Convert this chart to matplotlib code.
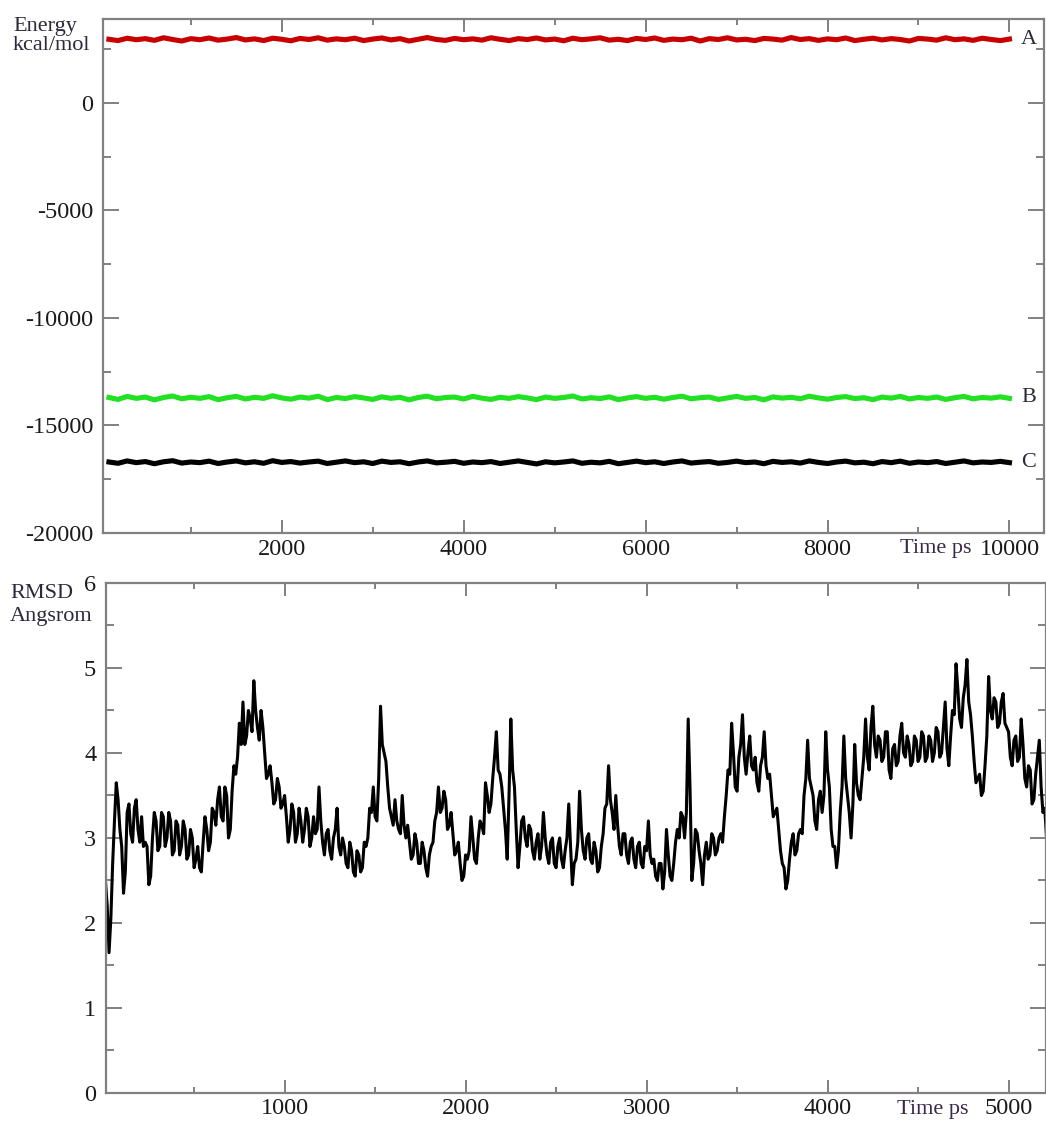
import numpy as np
import matplotlib
matplotlib.use("Agg")
import matplotlib.pyplot as plt
from matplotlib.ticker import MultipleLocator

plt.rcParams['font.family'] = ['Liberation Serif', 'DejaVu Serif']

# ---------------- energy traces (kcal/mol), one value every 100 ps ----------------
energy_time = np.arange(100, 10001, 100)

energy_A = [2960, 2900, 3010, 2940, 2990, 2910, 3030, 2950, 2880, 2990,
            2940, 3020, 2920, 2970, 3040, 2930, 2980, 2900, 3010, 2960,
            2890, 3000, 2950, 3030, 2920, 2980, 2940, 3010, 2900, 2970,
            3020, 2930, 2990, 2880, 2960, 3040, 2950, 2910, 3000, 2940,
            2980, 2920, 3030, 2960, 2900, 2990, 2950, 3020, 2930, 2970,
            2890, 3010, 2940, 2980, 3030, 2920, 2960, 2900, 3000, 2950,
            3020, 2910, 2970, 2940, 3010, 2880, 2990, 2950, 3030, 2930,
            2960, 2900, 3000, 2970, 2920, 3040, 2950, 2990, 2910, 2980,
            2940, 3020, 2900, 2960, 3010, 2930, 2990, 2950, 2880, 3000,
            2970, 2920, 3030, 2940, 2980, 2910, 3010, 2950, 2900, 2970]

energy_B = [-13700, -13790, -13650, -13740, -13680, -13810, -13700, -13630, -13760, -13690,
            -13740, -13660, -13800, -13710, -13650, -13770, -13690, -13740, -13620, -13720,
            -13780, -13680, -13730, -13640, -13800, -13700, -13750, -13660, -13720, -13790,
            -13670, -13740, -13690, -13810, -13700, -13640, -13760, -13700, -13680, -13770,
            -13650, -13730, -13790, -13690, -13740, -13660, -13720, -13800, -13680, -13740,
            -13700, -13630, -13770, -13710, -13750, -13670, -13800, -13720, -13660, -13740,
            -13690, -13780, -13700, -13640, -13760, -13710, -13680, -13790, -13720, -13650,
            -13740, -13700, -13810, -13670, -13730, -13690, -13760, -13640, -13720, -13780,
            -13700, -13660, -13750, -13710, -13800, -13680, -13730, -13650, -13770, -13700,
            -13740, -13680, -13790, -13710, -13650, -13760, -13700, -13730, -13670, -13740]

energy_C = [-16700, -16760, -16650, -16730, -16680, -16780, -16690, -16640, -16750, -16700,
            -16730, -16660, -16770, -16700, -16650, -16740, -16690, -16760, -16640, -16720,
            -16680, -16750, -16700, -16660, -16770, -16710, -16650, -16730, -16690, -16770,
            -16660, -16720, -16690, -16780, -16700, -16650, -16740, -16710, -16670, -16760,
            -16700, -16730, -16680, -16770, -16710, -16650, -16720, -16790, -16690, -16740,
            -16700, -16650, -16760, -16710, -16740, -16670, -16780, -16720, -16660, -16730,
            -16690, -16770, -16700, -16650, -16750, -16710, -16680, -16760, -16720, -16660,
            -16730, -16700, -16780, -16670, -16720, -16690, -16750, -16650, -16720, -16770,
            -16700, -16660, -16740, -16710, -16780, -16680, -16730, -16660, -16760, -16700,
            -16730, -16680, -16770, -16710, -16650, -16740, -16700, -16720, -16670, -16730]

energy_labels = ["A", "B", "C"]
energy_colors = ["#c80000", "#22e022", "#000000"]

# ---------------- backbone RMSD (Angstrom), one value every 10 ps ----------------
rmsd_time = np.arange(10, 5211, 10)

rmsd = [2.5, 2.2, 1.65, 2.05, 2.7, 3.2, 3.65, 3.45, 3.1, 2.9, 2.35, 2.6, 3.3, 3.4, 3.05, 2.95, 3.35, 3.45, 3.1, 2.95,
        3.25, 2.9, 2.95, 2.9, 2.45, 2.55, 3.0, 3.3, 3.2, 2.85, 2.9, 3.3, 3.25, 2.9, 3.0, 3.3, 3.2, 2.8, 2.85, 3.2,
        3.15, 2.8, 2.9, 3.2, 3.1, 2.75, 2.8, 3.1, 3.0, 2.65, 2.75, 2.9, 2.65, 2.6, 2.95, 3.25, 3.1, 2.85, 2.95, 3.35,
        3.3, 3.15, 3.45, 3.6, 3.25, 3.2, 3.6, 3.5, 3.0, 3.1, 3.55, 3.85, 3.75, 3.95, 4.35, 4.1, 4.6, 4.1, 4.2, 4.5,
        4.4, 4.25, 4.85, 4.5, 4.3, 4.15, 4.5, 4.3, 4.0, 3.7, 3.75, 3.85, 3.65, 3.4, 3.45, 3.7, 3.6, 3.35, 3.4, 3.5,
        3.25, 2.95, 3.1, 3.4, 3.3, 2.95, 3.05, 3.35, 3.2, 2.95, 3.1, 3.35, 3.25, 2.9, 3.0, 3.25, 3.05, 3.1, 3.6, 3.2,
        2.95, 2.8, 3.05, 3.1, 2.85, 2.75, 3.0, 3.1, 3.35, 2.9, 2.8, 3.0, 2.9, 2.7, 2.65, 2.95, 2.85, 2.6, 2.55, 2.85,
        2.8, 2.6, 2.65, 2.95, 2.9, 3.0, 3.35, 3.3, 3.6, 3.25, 3.2, 3.7, 4.55, 4.1, 4.0, 3.9, 3.6, 3.35, 3.25, 3.15,
        3.45, 3.2, 3.1, 3.05, 3.5, 3.15, 3.0, 3.15, 2.95, 2.75, 2.8, 3.05, 2.95, 2.7, 2.7, 2.95, 2.85, 2.65, 2.55, 2.8,
        2.9, 2.95, 3.2, 3.3, 3.6, 3.3, 3.35, 3.55, 3.45, 3.1, 3.15, 3.3, 3.05, 2.8, 2.85, 2.95, 2.7, 2.5, 2.55, 2.8,
        2.75, 2.85, 3.25, 3.0, 2.75, 2.7, 3.0, 3.2, 3.15, 3.05, 3.65, 3.5, 3.3, 3.4, 3.7, 3.95, 4.25, 3.8, 3.75, 3.6,
        3.35, 3.1, 2.75, 3.5, 4.4, 3.8, 3.6, 3.1, 2.65, 2.9, 3.2, 3.25, 3.0, 2.9, 3.15, 3.1, 2.85, 2.75, 2.95, 3.05,
        2.75, 2.9, 3.3, 3.0, 2.8, 2.7, 2.95, 3.0, 2.7, 2.65, 2.9, 3.0, 2.75, 2.65, 2.85, 3.0, 3.4, 2.9, 2.45, 2.7,
        2.75, 2.95, 3.55, 3.1, 2.85, 2.75, 3.0, 3.05, 2.75, 2.7, 2.95, 2.85, 2.6, 2.65, 2.9, 3.05, 3.35, 3.4, 3.85, 3.45,
        3.3, 3.1, 3.5, 3.15, 2.9, 2.8, 3.05, 3.05, 2.8, 2.7, 2.95, 3.0, 2.75, 2.65, 2.9, 2.95, 2.7, 2.65, 2.9, 2.85,
        3.2, 2.8, 2.7, 2.75, 2.55, 2.5, 2.7, 2.7, 2.4, 2.6, 3.1, 2.8, 2.55, 2.5, 2.7, 2.95, 3.1, 3.0, 3.3, 3.25,
        3.0, 3.3, 4.4, 3.6, 2.5, 2.7, 3.1, 3.05, 2.85, 2.7, 2.45, 2.8, 2.95, 2.75, 2.8, 3.05, 3.0, 2.8, 2.85, 3.0,
        3.05, 2.95, 3.25, 3.5, 3.8, 3.75, 4.35, 4.0, 3.6, 3.55, 3.95, 4.1, 4.45, 3.95, 3.75, 4.0, 4.2, 3.85, 3.8, 3.95,
        3.65, 3.55, 3.85, 3.95, 4.25, 3.85, 3.7, 3.75, 3.5, 3.25, 3.3, 3.35, 3.1, 2.85, 2.7, 2.65, 2.4, 2.5, 2.75, 2.95,
        3.05, 2.8, 2.85, 3.05, 3.1, 3.05, 3.5, 3.7, 4.15, 3.7, 3.6, 3.5, 3.2, 3.1, 3.45, 3.55, 3.3, 3.5, 4.25, 3.8,
        3.6, 3.1, 2.9, 2.9, 2.65, 2.85, 3.3, 3.6, 4.2, 3.7, 3.5, 3.3, 3.0, 3.4, 4.1, 3.65, 3.5, 3.45, 3.7, 3.95,
        4.4, 3.95, 3.8, 4.3, 4.55, 4.1, 3.95, 4.2, 4.15, 3.9, 3.95, 4.25, 4.25, 3.8, 3.7, 4.05, 4.1, 3.85, 3.9, 4.2,
        4.35, 4.0, 3.95, 4.2, 4.1, 3.85, 3.9, 4.2, 4.15, 3.9, 3.95, 4.25, 4.2, 3.9, 3.95, 4.2, 4.15, 3.9, 4.0, 4.3,
        4.25, 3.95, 4.0, 4.3, 4.6, 4.05, 3.85, 4.2, 4.5, 4.45, 5.05, 4.75, 4.4, 4.3, 4.65, 4.8, 5.1, 4.6, 4.45, 4.2,
        3.9, 3.65, 3.7, 3.75, 3.5, 3.55, 3.85, 4.2, 4.9, 4.5, 4.4, 4.65, 4.6, 4.3, 4.35, 4.6, 4.7, 4.35, 4.3, 4.25,
        3.95, 3.85, 4.15, 4.2, 3.9, 3.95, 4.4, 4.1, 3.7, 3.6, 3.85, 3.8, 3.4, 3.45, 3.75, 3.95, 4.15, 3.6, 3.3, 3.35,
        3.0]

axis_grey = "#808080"
text_col = "#2a2a3a"

fig = plt.figure(figsize=(10.46, 11.22), dpi=100)
ax1 = fig.add_axes([0.0985, 0.525, 0.8996, 0.458])
ax2 = fig.add_axes([0.1013, 0.0259, 0.8987, 0.4545])


def style_axes(ax):
    for sp in ax.spines.values():
        sp.set_color(axis_grey)
        sp.set_linewidth(1.6)
    ax.tick_params(which="both", direction="in", top=True, right=True,
                   color=axis_grey, width=1.4, labelsize=17.5, labelcolor="#1a1a1a")
    ax.tick_params(axis="x", which="major", length=9.5, pad=4)
    ax.tick_params(axis="x", which="minor", length=4.5)
    ax.tick_params(axis="y", which="major", length=11.5, pad=7)
    ax.tick_params(axis="y", which="minor", length=5.5)


# top panel: energies
for vals, lab, col in zip([energy_A, energy_B, energy_C], energy_labels, energy_colors):
    ax1.plot(energy_time, vals, color=col, lw=3.7)
    ax1.text(10130, np.mean(vals), lab, fontsize=16, color=text_col,
             ha="left", va="center")

ax1.set_xlim(35, 10380)
ax1.set_ylim(-20000, 3900)
ax1.xaxis.set_major_locator(MultipleLocator(2000))
ax1.xaxis.set_minor_locator(MultipleLocator(1000))
ax1.yaxis.set_minor_locator(MultipleLocator(2500))
ax1.set_yticks([0, -5000, -10000, -15000, -20000])
ax1.set_yticklabels(["0", "-5000", "-10000", "-15000", "-20000"])
style_axes(ax1)
ax1.text(0.847, -0.031, "Time ps", transform=ax1.transAxes, fontsize=16,
         color="#3a2a4a", ha="left", va="center")

# bottom panel: RMSD
ax2.plot(rmsd_time, rmsd, color="black", lw=2.2)
ax2.set_xlim(13, 5207)
ax2.set_ylim(0, 6)
ax2.xaxis.set_major_locator(MultipleLocator(1000))
ax2.xaxis.set_minor_locator(MultipleLocator(500))
ax2.yaxis.set_major_locator(MultipleLocator(1))
ax2.yaxis.set_minor_locator(MultipleLocator(0.5))
style_axes(ax2)
ax2.text(0.841, -0.033, "Time ps", transform=ax2.transAxes, fontsize=16,
         color="#3a2a4a", ha="left", va="center")

# axis captions in the top-left corners
fig.text(13 / 1046, 1 - 27 / 1122, "Energy", fontsize=16, color=text_col,
         ha="left", va="center")
fig.text(13 / 1046, 1 - 46 / 1122, "kcal/mol", fontsize=16, color=text_col,
         ha="left", va="center")
fig.text(10 / 1046, 1 - 593 / 1122, "RMSD", fontsize=16, color=text_col,
         ha="left", va="center")
fig.text(10 / 1046, 1 - 617 / 1122, "Angsrom", fontsize=16, color=text_col,
         ha="left", va="center")

fig.savefig("out.png", dpi=100)
